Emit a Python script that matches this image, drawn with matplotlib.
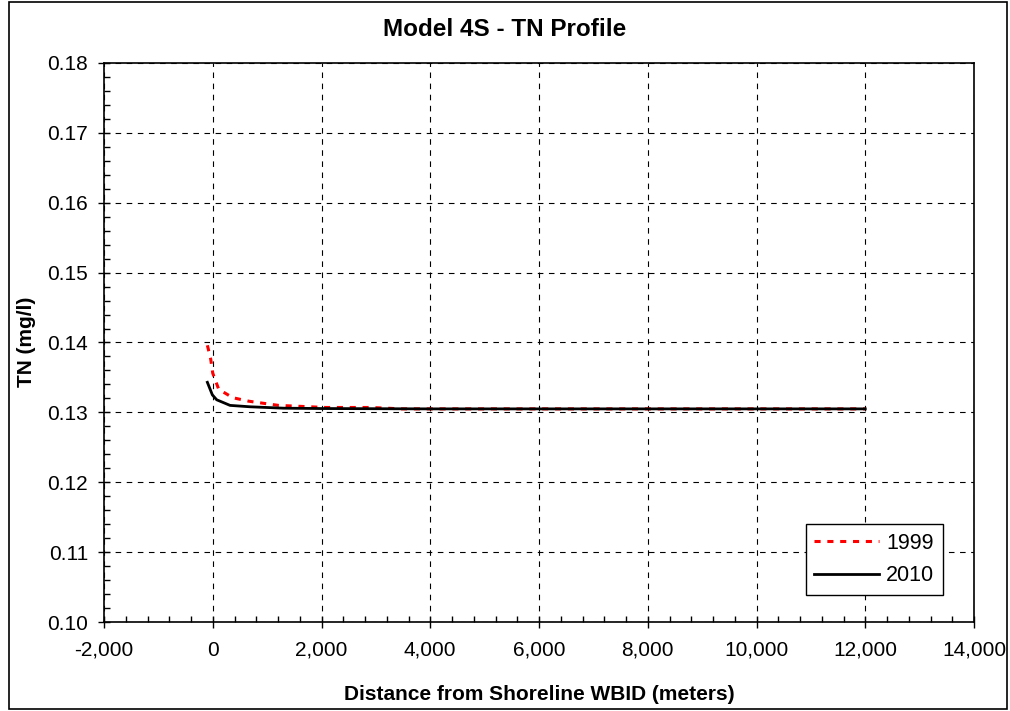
import matplotlib
matplotlib.use("Agg")
import matplotlib.pyplot as plt
from matplotlib.ticker import MultipleLocator, FuncFormatter
from matplotlib.patches import Rectangle

plt.rcParams['font.family'] = ['Liberation Sans', 'DejaVu Sans']

title = "Model 4S - TN Profile"
xlabel = "Distance from Shoreline WBID (meters)"
ylabel = "TN (mg/l)"

x_1999 = [-99, -37, 0, 110, 368, 662, 932, 1208, 1502, 2072, 2900, 3200, 3480, 4000, 6000, 8000, 10000, 12000]
y_1999 = [0.1396, 0.1376, 0.1356, 0.1333, 0.1321, 0.1316, 0.1313, 0.1310, 0.1309, 0.1307, 0.1307, 0.1306, 0.1305, 0.1305, 0.1305, 0.1305, 0.1305, 0.1305]

x_2010 = [-99, -7, 73, 318, 686, 1300, 2000, 4000, 6000, 8000, 10000, 12000]
y_2010 = [0.1343, 0.1325, 0.1318, 0.1310, 0.1308, 0.1306, 0.13055, 0.1305, 0.1305, 0.1305, 0.1305, 0.1305]

fig = plt.figure(figsize=(10.10, 7.11), dpi=100)
ax = fig.add_axes([104/1010, 89/711, 870/1010, 559/711])

ax.plot(x_1999, y_1999, color='red', linestyle=(0, (2, 2.2)), linewidth=2.2, label='1999', zorder=3)
ax.plot(x_2010, y_2010, color='black', linestyle='-', linewidth=2.0, label='2010', zorder=4)

ax.set_xlim(-2000, 14000)
ax.set_ylim(0.10, 0.18)
ax.xaxis.set_major_locator(MultipleLocator(2000))
ax.xaxis.set_minor_locator(MultipleLocator(400))
ax.yaxis.set_major_locator(MultipleLocator(0.01))
ax.yaxis.set_minor_locator(MultipleLocator(0.002))
ax.xaxis.set_major_formatter(FuncFormatter(lambda v, p: f"{v:,.0f}"))
ax.yaxis.set_major_formatter(FuncFormatter(lambda v, p: f"{v:.2f}"))
ax.tick_params(which='major', direction='inout', length=9, width=1, labelsize=15, pad=7)
ax.tick_params(which='minor', direction='in', length=4, width=1)
ax.tick_params(axis='x', pad=9)

ax.grid(True, which='major', color='black', linestyle=(0, (5, 5)), linewidth=0.8)
for s in ax.spines.values():
    s.set_linewidth(1.2)
    s.set_color('black')

fig.text(0.5, 1 - 30/711, title, ha='center', va='center', fontsize=17.5, fontweight='bold')
fig.text(539/1010, 1 - 694/711, xlabel, ha='center', va='center', fontsize=15, fontweight='bold')
fig.text(27/1010, 1 - 342/711, ylabel, ha='center', va='center', fontsize=15, fontweight='bold', rotation=90)

leg = ax.legend(loc='lower right', bbox_to_anchor=((943 - 104)/870, 27/559), borderaxespad=0,
                frameon=True, fancybox=False, edgecolor='black', framealpha=1,
                handlelength=3.0, handletextpad=0.35, borderpad=0.4, labelspacing=0.55,
                prop={'family': ['Liberation Sans Narrow', 'Liberation Sans', 'DejaVu Sans'], 'size': 15.5})
leg.get_frame().set_linewidth(1.0)

fig.patches.append(Rectangle((9/1010, 2/711), 998/1010, 707/711, transform=fig.transFigure,
                             fill=False, edgecolor='black', linewidth=1.2))

fig.savefig("out.png", dpi=100)
